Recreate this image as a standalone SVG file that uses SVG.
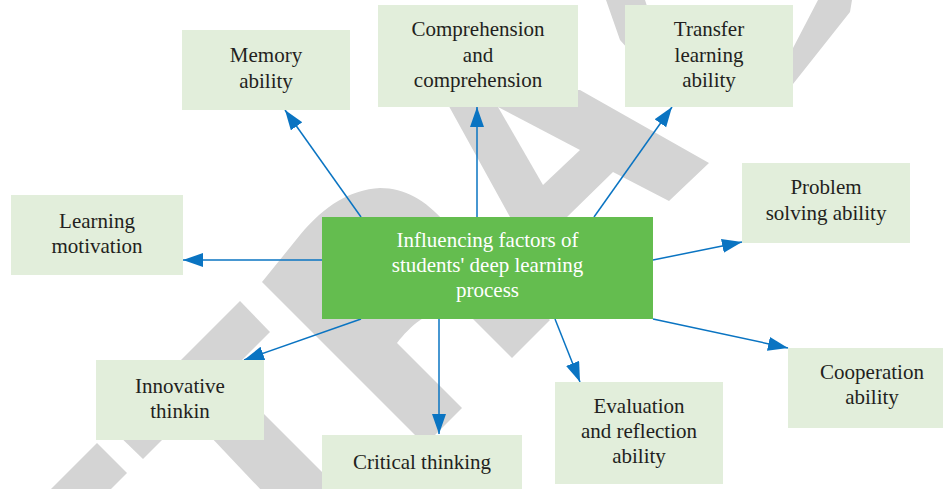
<svg xmlns="http://www.w3.org/2000/svg" width="943" height="489" viewBox="0 0 943 489">
<defs>
<style>
.box{fill:#e2eedb}
.main{fill:#64bd4f}
.t{font-family:"Liberation Serif","Times New Roman",serif;font-size:21px;fill:#231f20;text-anchor:middle}
.tw{font-family:"Liberation Serif","Times New Roman",serif;font-size:21px;fill:#ffffff;text-anchor:middle}
.wm{fill:#d4d4d4}
.c{stroke:#0a74c2;stroke-width:1.5;fill:none;marker-end:url(#ah)}
</style>
<marker id="ah" markerUnits="userSpaceOnUse" markerWidth="22" markerHeight="16" refX="20" refY="7" orient="auto">
<path d="M0,0 L20,7 L0,14 Z" fill="#0a74c2"/>
</marker>
</defs>
<rect width="943" height="489" fill="#ffffff"/>
<g id="watermark">
<path class="wm" d="M440,90 L580,90 L709,163 L669,201 L613,172 L567,217 L566,319 L510,217 Z"/>
<path fill="#ffffff" d="M498,107 L580,150 L543,185 Z"/>
<path class="wm" d="M606,0 L620,40 L660,85 L720,105 L793,84 L850,12 L852,0 L818,0 L793,48 L740,70 L690,60 L655,30 L645,0 Z"/>
<path class="wm" d="M262,282 L300,235 C325,205 350,190 380,188 C405,188 425,200 445,222 L550,320 L512,358 L470,316 C440,300 415,320 397,343 L462,408 L432,438 L420,440 Z"/>
<path class="wm" d="M240,301 L270,332 L143,459 L112,429 Z"/>
<path class="wm" d="M97,443 L127,473 L111,489 L51,489 Z"/>
<path class="wm" d="M230,380 L360,510 L280,510 L157,380 Z"/>
</g>
<g id="connectors">
<line class="c" x1="361" y1="217" x2="285" y2="110"/>
<line class="c" x1="477" y1="217" x2="477" y2="107"/>
<line class="c" x1="594" y1="217" x2="672" y2="107"/>
<line class="c" x1="653" y1="260" x2="742" y2="242"/>
<line class="c" x1="322" y1="260" x2="183" y2="260"/>
<line class="c" x1="361" y1="319" x2="244" y2="360"/>
<line class="c" x1="439" y1="319" x2="439" y2="434"/>
<line class="c" x1="555" y1="319" x2="580" y2="382"/>
<line class="c" x1="653" y1="319" x2="788" y2="348"/>
</g>
<g id="memory"><rect class="box" x="182" y="30" width="168" height="80"/><text class="t" x="266" y="62">Memory</text><text class="t" x="266" y="88">ability</text></g>
<g id="comprehension"><rect class="box" x="378" y="5" width="200" height="102"/><text class="t" x="478" y="36">Comprehension</text><text class="t" x="478" y="62">and</text><text class="t" x="478" y="87">comprehension</text></g>
<g id="transfer"><rect class="box" x="625" y="5" width="168" height="102"/><text class="t" x="709" y="36">Transfer</text><text class="t" x="709" y="62">learning</text><text class="t" x="709" y="87">ability</text></g>
<g id="problem"><rect class="box" x="742" y="163" width="168" height="80"/><text class="t" x="826" y="194">Problem</text><text class="t" x="826" y="220">solving ability</text></g>
<g id="motivation"><rect class="box" x="11" y="195" width="172" height="80"/><text class="t" x="97" y="228">Learning</text><text class="t" x="97" y="253">motivation</text></g>
<g id="center"><rect class="main" x="322" y="217" width="331" height="102"/><text class="tw" x="487.5" y="247">Influencing factors of</text><text class="tw" x="487.5" y="272">students' deep learning</text><text class="tw" x="487.5" y="297">process</text></g>
<g id="innovative"><rect class="box" x="96" y="360" width="168" height="80"/><text class="t" x="180" y="393">Innovative</text><text class="t" x="180" y="418">thinkin</text></g>
<g id="critical"><rect class="box" x="322" y="435" width="200" height="60"/><text class="t" x="422" y="469">Critical thinking</text></g>
<g id="evaluation"><rect class="box" x="555" y="382" width="168" height="102"/><text class="t" x="639" y="413">Evaluation</text><text class="t" x="639" y="438">and reflection</text><text class="t" x="639" y="463">ability</text></g>
<g id="cooperation"><rect class="box" x="788" y="348" width="168" height="80"/><text class="t" x="872" y="379">Cooperation</text><text class="t" x="872" y="404">ability</text></g>
</svg>
